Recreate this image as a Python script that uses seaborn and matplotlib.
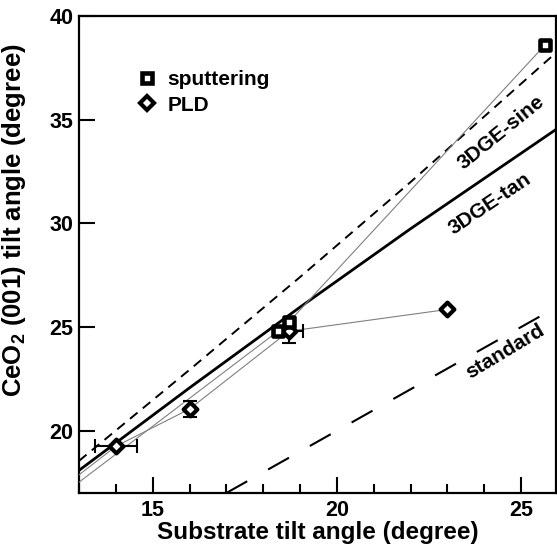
import matplotlib
matplotlib.use("Agg")
import matplotlib.pyplot as plt
from matplotlib.lines import Line2D
from matplotlib.ticker import MultipleLocator
import seaborn as sns

sns.set_theme(style="ticks")
plt.rcParams["font.family"] = ["Liberation Sans", "DejaVu Sans"]
plt.rcParams["font.weight"] = "bold"
plt.rcParams["mathtext.fontset"] = "custom"
plt.rcParams["mathtext.rm"] = "Liberation Sans:bold"
plt.rcParams["mathtext.default"] = "rm"
for key in ("text.color", "axes.labelcolor", "xtick.color", "ytick.color", "axes.edgecolor"):
    plt.rcParams[key] = "black"

# measured tilt angles (degree); each series starts from the untilted origin
sput_substrate = [0.0, 18.4, 18.7, 25.65]
sput_ceo2 = [0.0, 24.8, 25.25, 38.6]
pld_substrate = [0.0, 14.0, 16.0, 18.7, 23.0]
pld_ceo2 = [0.0, 19.25, 21.05, 24.8, 25.85]
pld_xerr = [0.0, 0.57, 0.0, 0.38, 0.0]
pld_yerr = [0.0, 0.0, 0.37, 0.55, 0.0]

# model curves (degree)
model_substrate = [13, 16, 19, 22, 26]
dge_tan = [18.09, 22.07, 25.96, 29.74, 34.59]
dge_sine = [18.55, 22.94, 27.41, 31.99, 38.31]
standard_substrate = [17.0, 25.5]
standard_ceo2 = [17.0, 25.5]

fig = plt.figure(figsize=(5.57, 5.51), dpi=100)
ax = fig.add_axes([79 / 557, 1 - 493 / 551, 477 / 557, 477 / 551])

# model lines
sns.lineplot(x=model_substrate, y=dge_tan, ax=ax, color="black", lw=2.0,
             sort=False, estimator=None, zorder=2)
sns.lineplot(x=model_substrate, y=dge_sine, ax=ax, color="black", lw=1.4,
             linestyle=(0, (5, 3.5)), sort=False, estimator=None, zorder=2)
sns.lineplot(x=standard_substrate, y=standard_ceo2, ax=ax, color="black", lw=1.5,
             linestyle=(0, (11.5, 11.5)), sort=False, estimator=None, zorder=2)

# thin connecting lines through the measurements
sns.lineplot(x=sput_substrate, y=sput_ceo2, ax=ax, color="0.5", lw=0.8,
             sort=False, estimator=None, zorder=3)
sns.lineplot(x=pld_substrate, y=pld_ceo2, ax=ax, color="0.5", lw=0.8,
             sort=False, estimator=None, zorder=3)

# PLD error bars
ax.errorbar(pld_substrate, pld_ceo2, xerr=pld_xerr, yerr=pld_yerr, fmt="none",
            ecolor="black", elinewidth=1.5, capsize=5, capthick=1.5, zorder=4)

# markers
sns.scatterplot(x=pld_substrate, y=pld_ceo2, ax=ax, marker="D", s=7.0 ** 2,
                facecolor="white", edgecolor="black", linewidth=3.0, zorder=5)
sns.scatterplot(x=sput_substrate, y=sput_ceo2, ax=ax, marker="s", s=7.8 ** 2,
                facecolor="white", edgecolor="black", linewidth=3.3, zorder=6)

ax.set_xlim(13, 25.95)
ax.set_ylim(17, 40)
ax.xaxis.set_major_locator(MultipleLocator(5))
ax.xaxis.set_minor_locator(MultipleLocator(1))
ax.yaxis.set_major_locator(MultipleLocator(5))
ax.tick_params(which="both", direction="in", top=False, right=False, width=1.5)
ax.tick_params(which="major", length=11.5, labelsize=15.5)
ax.tick_params(axis="x", which="major", pad=5)
ax.tick_params(axis="y", which="major", pad=4)
ax.tick_params(which="minor", length=6.5)
for sp in ax.spines.values():
    sp.set_linewidth(1.6)

ax.set_xlabel("Substrate tilt angle (degree)", fontsize=17.5, fontweight="bold", labelpad=0)
ax.set_ylabel("CeO$_2$ (001) tilt angle (degree)", fontsize=18.5, fontweight="bold")
ax.yaxis.set_label_coords(-0.107, 0.572)

# curve labels
ax.text(24.47, 34.4, "3DGE-sine", rotation=39, ha="center", va="center",
        fontsize=15, fontweight="bold", rotation_mode="anchor")
ax.text(24.15, 30.95, "3DGE-tan", rotation=34, ha="center", va="center",
        fontsize=15, fontweight="bold", rotation_mode="anchor")
ax.text(24.58, 23.8, "standard", rotation=31, ha="center", va="center",
        fontsize=15, fontweight="bold", rotation_mode="anchor")

handles = [
    Line2D([], [], marker="s", ls="", mfc="white", mec="black", ms=7.8, mew=3.3),
    Line2D([], [], marker="D", ls="", mfc="white", mec="black", ms=7.0, mew=3.0),
]
ax.legend(handles, ["sputtering", "PLD"], loc="upper left",
          bbox_to_anchor=(0.12, 0.887), frameon=False,
          handlelength=1.0, handletextpad=0.5, labelspacing=0.32,
          borderaxespad=0, borderpad=0, prop={"weight": "bold", "size": 15})

fig.savefig("out.png", dpi=100)
